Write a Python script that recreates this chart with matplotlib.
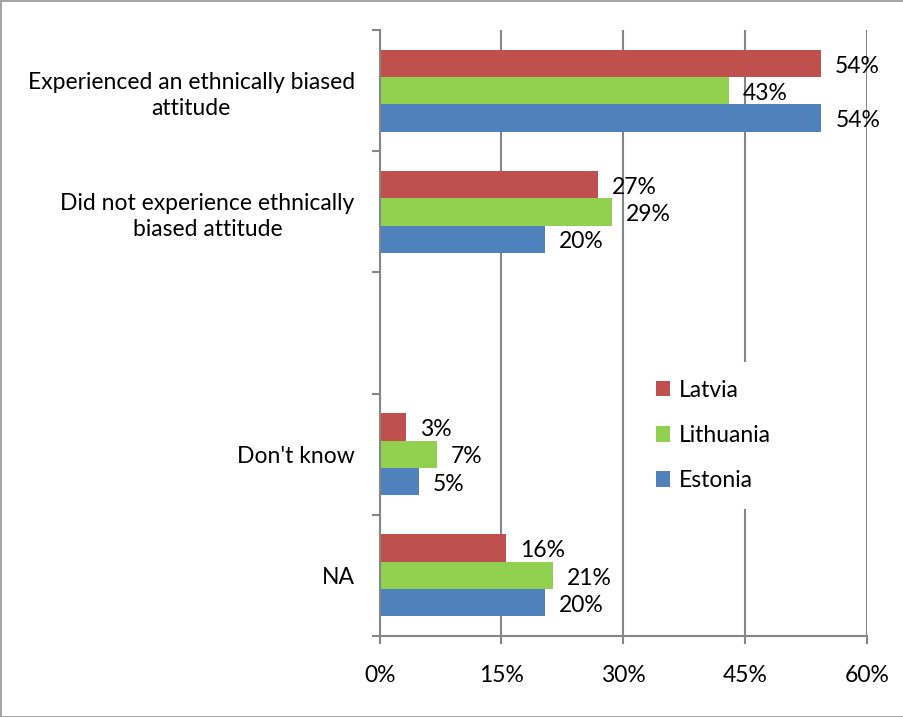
"""Ethnically biased attitude by country, horizontal grouped bar chart."""

import matplotlib

matplotlib.use("Agg")
from matplotlib import pyplot as plt

plt.rcParams["font.family"] = ["Lato", "DejaVu Sans"]

CATEGORIES = [
    "Experienced an ethnically biased\nattitude",
    "Did not experience ethnically\nbiased attitude",
    "",
    "Don't know",
    "NA",
]
SERIES_NAMES = ["Latvia", "Lithuania", "Estonia"]
LATVIA = [54.3, 26.9, None, 3.3, 15.6]
LITHUANIA = [43.0, 28.6, None, 7.1, 21.3]
ESTONIA = [54.4, 20.4, None, 4.8, 20.4]
X_TICKS = [0, 15, 30, 45, 60]

COLORS = ["#C0504D", "#92D050", "#4F81BD"]
GRID_COLOR = "#868686"
FONT_SIZE = 16.5

figure = plt.figure(figsize=(9.04, 7.17), dpi=100)
figure.patch.set_edgecolor("#A6A6A6")
figure.patch.set_linewidth(2)
axis = figure.add_axes([0.420, 0.113, 0.539, 0.845])

n_slots = len(CATEGORIES)
bar_height = 0.225
handles = []
for series_index, (values, color) in enumerate(zip([LATVIA, LITHUANIA, ESTONIA], COLORS)):
    ys, widths = [], []
    for slot, value in enumerate(values):
        if value is None:
            continue
        center = n_slots - slot - 0.5
        ys.append(center + (1 - series_index) * bar_height)
        widths.append(value)
    bars = axis.barh(ys, widths, height=bar_height, color=color, zorder=2)
    handles.append(bars)
    for y, width in zip(ys, widths):
        axis.annotate(
            f"{round(width)}%",
            xy=(width, y),
            xytext=(10, -2),
            textcoords="offset points",
            ha="left",
            va="center",
            fontsize=FONT_SIZE,
        )

axis.set_xlim(0, 60)
axis.set_ylim(0, n_slots)
axis.set_xticks(X_TICKS)
axis.set_xticklabels([f"{tick}%" for tick in X_TICKS], fontsize=FONT_SIZE)
axis.set_yticks(range(n_slots + 1))
axis.set_yticklabels([])
axis.set_yticks([n_slots - i - 0.5 for i in range(n_slots)], minor=True)
axis.set_yticklabels(
    CATEGORIES, minor=True, fontsize=FONT_SIZE, multialignment="center", linespacing=1.3
)
axis.tick_params(axis="y", which="minor", length=0, pad=18)
axis.tick_params(axis="y", which="major", length=6, color=GRID_COLOR, width=1.5)
axis.tick_params(axis="x", length=6, color=GRID_COLOR, width=1.5, pad=15)

axis.grid(axis="x", color=GRID_COLOR, linewidth=1.5, zorder=0)
axis.set_axisbelow(True)
for side in ("top", "right"):
    axis.spines[side].set_visible(False)
for side in ("left", "bottom"):
    axis.spines[side].set_color(GRID_COLOR)
    axis.spines[side].set_linewidth(1.5)

legend = axis.legend(
    handles,
    SERIES_NAMES,
    loc="center left",
    bbox_to_anchor=(0.505, 0.331),
    fontsize=FONT_SIZE,
    frameon=True,
    facecolor="white",
    edgecolor="none",
    fancybox=False,
    framealpha=1,
    handlelength=0.65,
    handleheight=0.65,
    handletextpad=0.35,
    labelspacing=1.05,
    borderpad=0.8,
)

figure.savefig("out.png", dpi=100)
